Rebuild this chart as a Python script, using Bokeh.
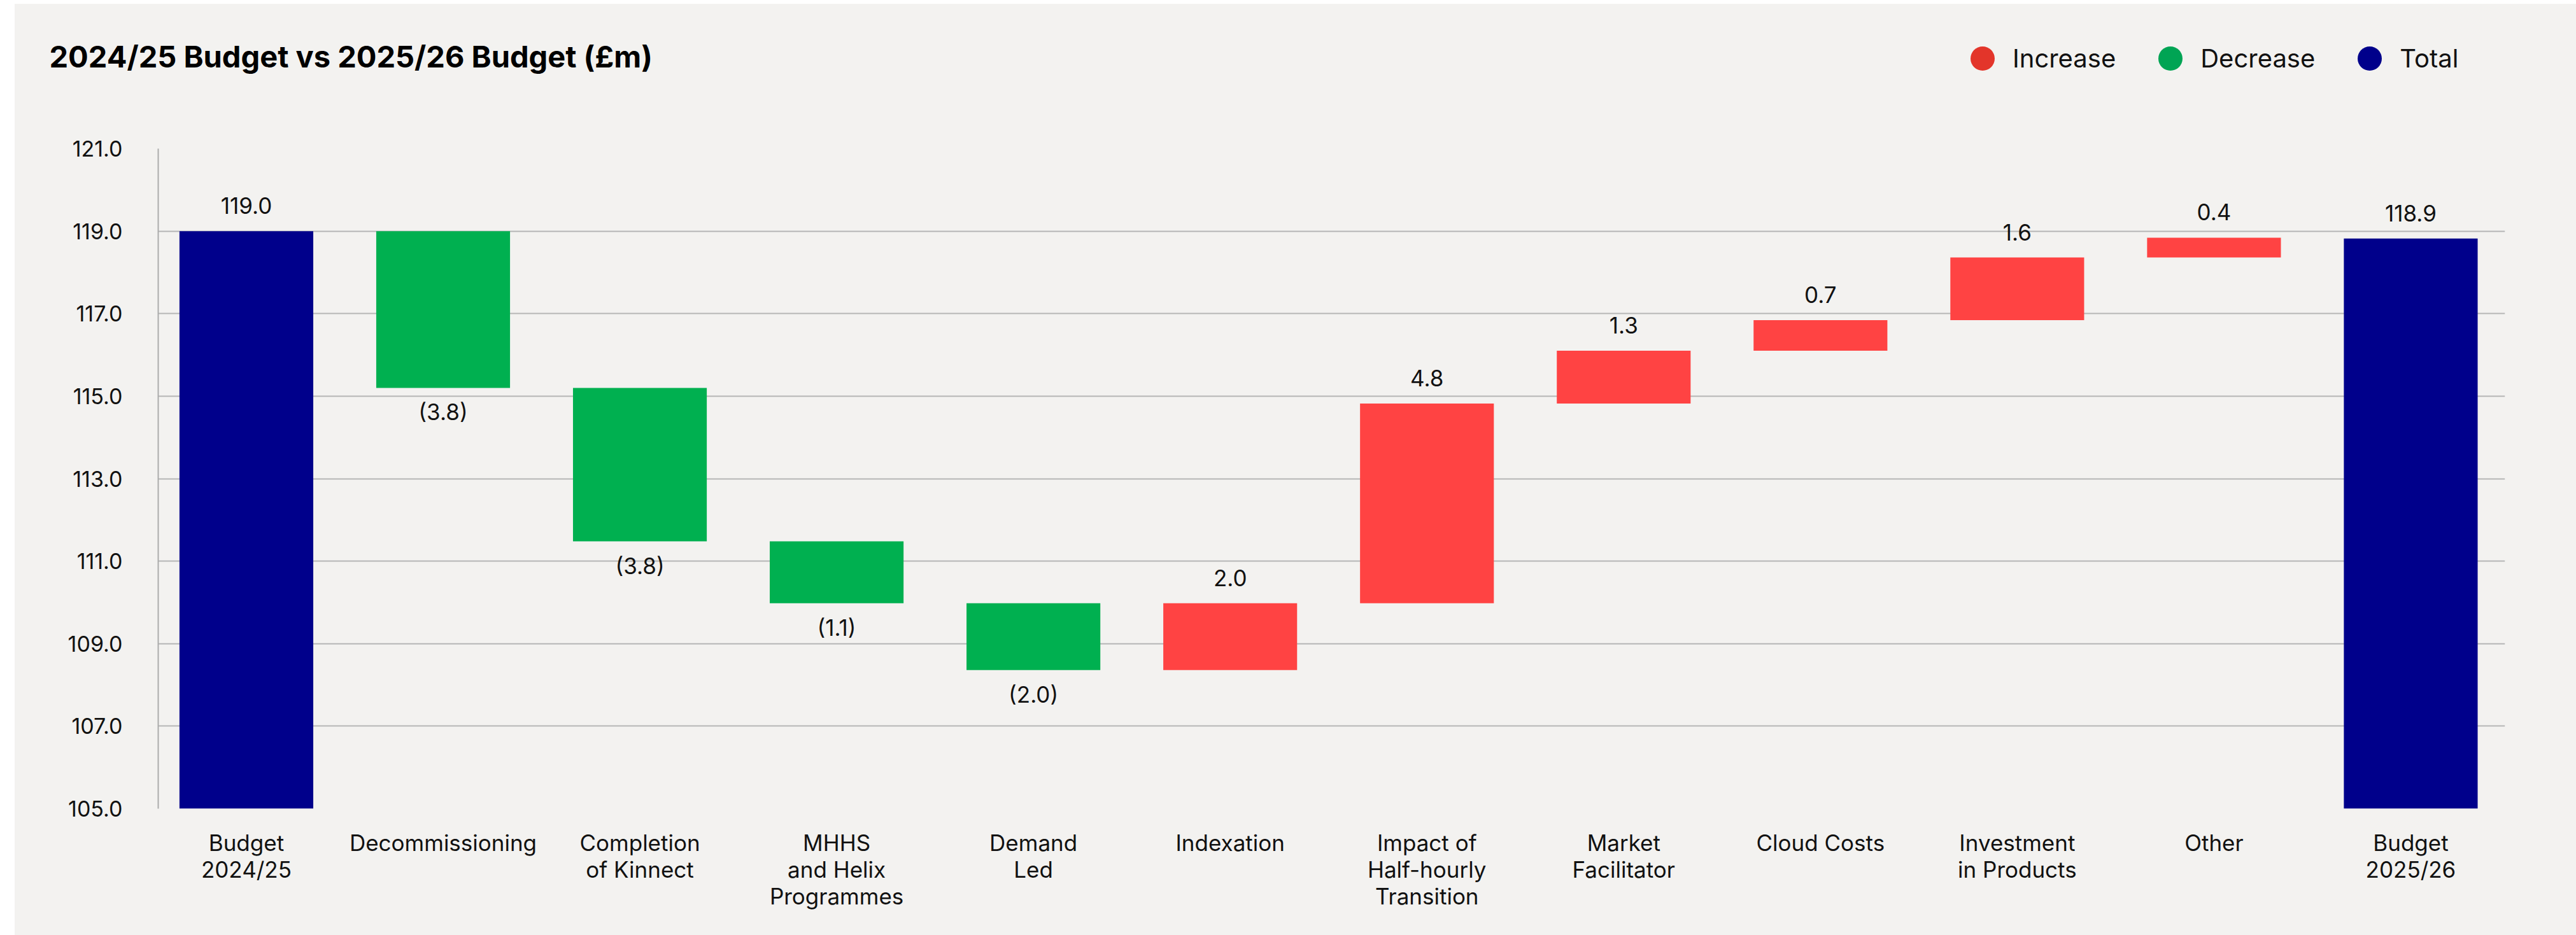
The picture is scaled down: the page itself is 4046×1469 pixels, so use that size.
from bokeh.plotting import figure
from bokeh.layouts import column
from bokeh.models import (ColumnDataSource, FixedTicker, Label, Legend, LegendItem,
                          NumeralTickFormatter, Range1d)
from bokeh.core.properties import value
from bokeh.embed import file_html
from bokeh.resources import INLINE

# ---------------- data ----------------
categories = ["Budget\n2024/25", "Decommissioning", "Completion\nof Kinnect",
              "MHHS\nand Helix\nProgrammes", "Demand\nLed", "Indexation",
              "Impact of\nHalf-hourly\nTransition", "Market\nFacilitator",
              "Cloud Costs", "Investment\nin Products", "Other", "Budget\n2025/26"]
kinds = ["total", "decrease", "decrease", "decrease", "decrease", "increase",
         "increase", "increase", "increase", "increase", "increase", "total"]
# bar sizes as drawn in the picture (totals are absolute levels)
bar_values = [119.0, -3.8, -3.72, -1.5, -1.62, 1.62, 4.84, 1.28, 0.74, 1.52, 0.48, 118.82]
# printed labels
value_labels = ["119.0", "(3.8)", "(3.8)", "(1.1)", "(2.0)", "2.0", "4.8", "1.3",
                "0.7", "1.6", "0.4", "118.9"]
y_ticks = [105, 107, 109, 111, 113, 115, 117, 119, 121]
legend_names = ["Increase", "Decrease", "Total"]
title_text = "2024/25 Budget vs 2025/26 Budget (£m)"

FONT = "Inter"
BG = "#F3F2F0"
bar_colors = {"increase": "#FF4343", "decrease": "#00B050", "total": "#00008B"}
legend_colors = {"Increase": "#E3352A", "Decrease": "#00A454", "Total": "#00008B"}

Y_MIN, Y_MAX = 105, 121

# page layout (white margin around the grey panel)
ML, MT, MR, MB = 23, 6, 0, 0
W = 4046 - ML - MR
HEAD_H = 150 - MT
MAIN_H = 1469 - MT - MB - HEAD_H
FRAME_L, FRAME_R, FRAME_T, FRAME_B = 248 - ML, 3934 - ML, 233 - MT, 1270 - MT

# ---------------- header (title + legend) ----------------
head = figure(width=W, height=HEAD_H, output_backend="svg", toolbar_location=None,
              x_range=Range1d(0, W), y_range=Range1d(HEAD_H, 0),
              x_axis_location=None, y_axis_location=None,
              min_border=0, min_border_left=0, min_border_right=0,
              min_border_top=0, min_border_bottom=0)
head.frame_align = False
head.grid.visible = False
head.background_fill_color = BG
head.border_fill_color = BG
head.outline_line_color = None

head.add_layout(Label(x=77 - ML, y=88 - MT, text=title_text, text_font=FONT,
                      text_font_size="47px", text_font_style="bold",
                      text_color="#000000", text_baseline="alphabetic"))

items = []
nan = float("nan")
for name in legend_names:
    r = head.scatter(x=[nan], y=[nan], marker="circle", size=38,
                     fill_color=legend_colors[name], line_color=None)
    items.append(LegendItem(label=name, renderers=[r]))
legend = Legend(items=items, orientation="horizontal",
                location=(3066 - ML, HEAD_H - (139 - MT)),
                glyph_width=95, glyph_height=95, label_standoff=-20, spacing=38,
                padding=0, margin=0, background_fill_alpha=0, border_line_color=None,
                label_text_font=FONT, label_text_font_size="40px",
                label_text_color="#111111")
head.add_layout(legend, "center")

# ---------------- waterfall geometry ----------------
xs, bottoms, tops, colors = [], [], [], []
up_x, up_y, up_t = [], [], []
dn_x, dn_y, dn_t = [], [], []
level = 0.0
for i, (k, v, lab) in enumerate(zip(kinds, bar_values, value_labels)):
    if k == "total":
        b, t = Y_MIN, v
        level = v
    else:
        b, t = sorted([level, level + v])
        level = level + v
    xs.append(i)
    bottoms.append(b)
    tops.append(t)
    colors.append(bar_colors[k])
    if k == "decrease":
        dn_x.append(i); dn_y.append(b); dn_t.append(lab)
    else:
        up_x.append(i); up_y.append(t); up_t.append(lab)

src = ColumnDataSource(dict(x=xs, bottom=bottoms, top=tops, color=colors))

p = figure(width=W, height=MAIN_H, output_backend="svg", toolbar_location=None,
           x_range=Range1d(-0.448, 11.479), y_range=Range1d(Y_MIN, Y_MAX),
           min_border_left=FRAME_L, min_border_right=W - FRAME_R,
           min_border_top=FRAME_T - HEAD_H,
           min_border_bottom=HEAD_H + MAIN_H - FRAME_B)
p.frame_align = False
p.background_fill_color = BG
p.border_fill_color = BG
p.outline_line_color = None

p.vbar(x="x", bottom="bottom", top="top", width=0.68, fill_color="color",
       line_color=None, source=src)

p.text(x=up_x, y=up_y, text=up_t, text_align="center", text_baseline="alphabetic",
       y_offset=-40, text_font=value(FONT), text_font_size="35px", text_color="#111111")
p.text(x=dn_x, y=dn_y, text=dn_t, text_align="center", text_baseline="alphabetic",
       y_offset=38, text_font=value(FONT), text_font_size="35px", text_color="#111111")

# axes
p.yaxis.ticker = FixedTicker(ticks=y_ticks)
p.yaxis.formatter = NumeralTickFormatter(format="0.0")
p.yaxis.axis_line_color = "#ABABAB"
p.yaxis.axis_line_width = 2
p.yaxis.major_tick_line_color = None
p.yaxis.minor_tick_line_color = None
p.yaxis.major_label_standoff = 50
p.yaxis.major_label_text_font = FONT
p.yaxis.major_label_text_font_size = "34px"
p.yaxis.major_label_text_color = "#111111"

p.xaxis.ticker = FixedTicker(ticks=list(range(len(categories))))
p.xaxis.major_label_overrides = {i: c for i, c in enumerate(categories)}
p.xaxis.axis_line_color = None
p.xaxis.major_tick_line_color = None
p.xaxis.minor_tick_line_color = None
p.xaxis.major_label_standoff = 26
p.xaxis.major_label_text_font = FONT
p.xaxis.major_label_text_font_size = "35px"
p.xaxis.major_label_text_line_height = 1.0
p.xaxis.major_label_text_color = "#111111"

p.xgrid.grid_line_color = None
p.ygrid.ticker = FixedTicker(ticks=y_ticks)
p.ygrid.grid_line_color = "#B5B5B5"
p.ygrid.grid_line_width = 2

layout = column(head, p, spacing=0, margin=(MT, MR, MB, ML),
                styles={"background-color": BG})
open("out.html", "w").write(file_html(layout, INLINE))
